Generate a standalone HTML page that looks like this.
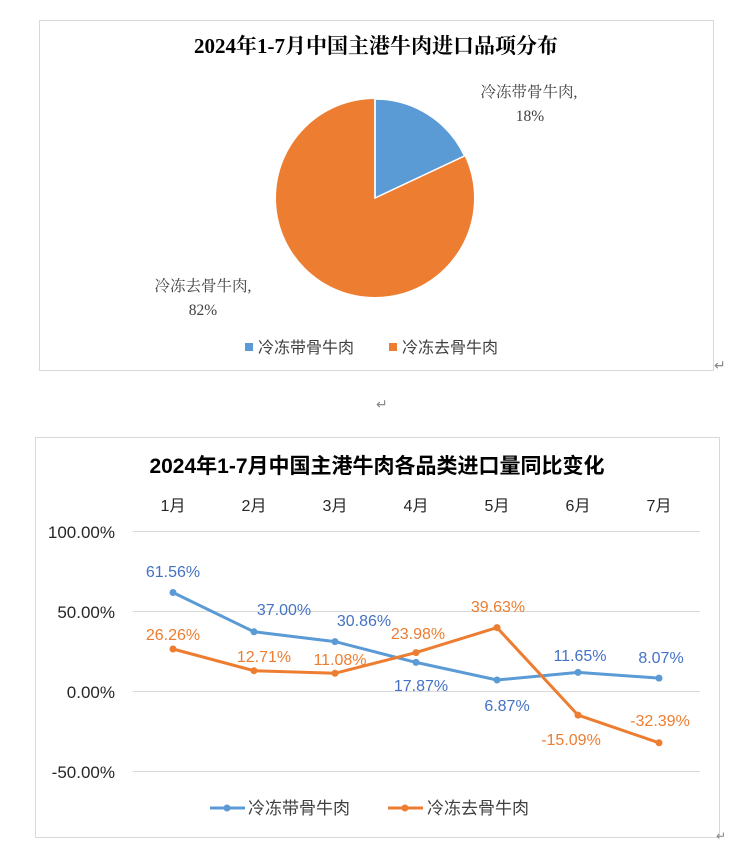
<!DOCTYPE html>
<html><head><meta charset="utf-8"><style>
body{margin:0;background:#fff;width:731px;height:849px;overflow:hidden}
svg{display:block}
.s{font-family:"Liberation Serif","Noto Serif CJK SC",serif}
.a{font-family:"Liberation Sans","Noto Sans CJK SC",sans-serif}
</style></head><body>
<svg width="731" height="849" viewBox="0 0 731 849">
<rect x="39.5" y="20.5" width="674" height="350" fill="#fff" stroke="#d9d9d9"/>
<text x="376" y="53" text-anchor="middle" class="s" font-size="21" font-weight="bold" fill="#000">2024年1-7月中国主港牛肉进口品项分布</text>
<circle cx="375" cy="198" r="99" fill="#ED7D31"/>
<path d="M375,198 L375,99 A99,99 0 0,1 464.6,155.9 Z" fill="#5B9BD5" stroke="#fff" stroke-width="1.5"/>
<line x1="375" y1="198" x2="375" y2="99" stroke="#fff" stroke-width="1.5"/>
<text x="529" y="97" text-anchor="middle" class="s" font-size="15.5" fill="#404040">冷冻带骨牛肉,</text>
<text x="530" y="121" text-anchor="middle" class="s" font-size="15.5" fill="#404040">18%</text>
<text x="203" y="291" text-anchor="middle" class="s" font-size="15.5" fill="#404040">冷冻去骨牛肉,</text>
<text x="203" y="315" text-anchor="middle" class="s" font-size="15.5" fill="#404040">82%</text>
<rect x="245" y="343" width="8" height="8" fill="#5B9BD5"/>
<text x="258" y="353" class="a" font-size="16" fill="#404040">冷冻带骨牛肉</text>
<rect x="389" y="343" width="8" height="8" fill="#ED7D31"/>
<text x="402" y="353" class="a" font-size="16" fill="#404040">冷冻去骨牛肉</text>
<text x="714" y="370" class="a" font-size="14" fill="#888">↵</text>
<text x="376" y="409" class="a" font-size="14" fill="#888">↵</text>

<rect x="35.5" y="437.5" width="684" height="400" fill="#fff" stroke="#d9d9d9"/>
<text x="377" y="473" text-anchor="middle" class="a" font-size="21" font-weight="bold" fill="#000">2024年1-7月中国主港牛肉各品类进口量同比变化</text>
<g class="a" font-size="16" fill="#262626" text-anchor="middle">
<text x="173" y="511">1月</text><text x="254" y="511">2月</text><text x="335" y="511">3月</text><text x="416" y="511">4月</text><text x="497" y="511">5月</text><text x="578" y="511">6月</text><text x="659" y="511">7月</text>
</g>
<g stroke="#d9d9d9" stroke-width="1">
<line x1="133" y1="531.5" x2="700" y2="531.5"/><line x1="133" y1="611.5" x2="700" y2="611.5"/><line x1="133" y1="691.5" x2="700" y2="691.5"/><line x1="133" y1="771.5" x2="700" y2="771.5"/>
</g>
<g class="a" font-size="17" fill="#262626" text-anchor="end">
<text x="115" y="538">100.00%</text><text x="115" y="618">50.00%</text><text x="115" y="698">0.00%</text><text x="115" y="778">-50.00%</text>
</g>
<polyline points="173,592.5 254,631.8 335,641.6 416,662.4 497,680 578,672.4 659,678.1" fill="none" stroke="#5B9BD5" stroke-width="3"/>
<g fill="#5B9BD5"><circle cx="173" cy="592.5" r="3.5"/><circle cx="254" cy="631.8" r="3.5"/><circle cx="335" cy="641.6" r="3.5"/><circle cx="416" cy="662.4" r="3.5"/><circle cx="497" cy="680" r="3.5"/><circle cx="578" cy="672.4" r="3.5"/><circle cx="659" cy="678.1" r="3.5"/></g>
<polyline points="173,649 254,670.7 335,673.3 416,652.6 497,627.6 578,715.1 659,742.8" fill="none" stroke="#ED7D31" stroke-width="3"/>
<g fill="#ED7D31"><circle cx="173" cy="649" r="3.5"/><circle cx="254" cy="670.7" r="3.5"/><circle cx="335" cy="673.3" r="3.5"/><circle cx="416" cy="652.6" r="3.5"/><circle cx="497" cy="627.6" r="3.5"/><circle cx="578" cy="715.1" r="3.5"/><circle cx="659" cy="742.8" r="3.5"/></g>
<g class="a" font-size="16" fill="#4472C4" text-anchor="middle">
<text x="173" y="577">61.56%</text><text x="284" y="615">37.00%</text><text x="364" y="626">30.86%</text><text x="421" y="691">17.87%</text><text x="507" y="711">6.87%</text><text x="580" y="661">11.65%</text><text x="661" y="663">8.07%</text>
</g>
<g class="a" font-size="16" fill="#ED7D31" text-anchor="middle">
<text x="173" y="640">26.26%</text><text x="264" y="662">12.71%</text><text x="340" y="665">11.08%</text><text x="418" y="639">23.98%</text><text x="498" y="612">39.63%</text><text x="571" y="745">-15.09%</text><text x="660" y="726">-32.39%</text>
</g>
<line x1="210" y1="808" x2="245" y2="808" stroke="#5B9BD5" stroke-width="3"/><circle cx="227" cy="808" r="3.5" fill="#5B9BD5"/>
<text x="248" y="814" class="a" font-size="17" fill="#404040">冷冻带骨牛肉</text>
<line x1="388" y1="808" x2="423" y2="808" stroke="#ED7D31" stroke-width="3"/><circle cx="405" cy="808" r="3.5" fill="#ED7D31"/>
<text x="427" y="814" class="a" font-size="17" fill="#404040">冷冻去骨牛肉</text>
<text x="716" y="840" class="a" font-size="12" fill="#888">↵</text>
</svg>
</body></html>
